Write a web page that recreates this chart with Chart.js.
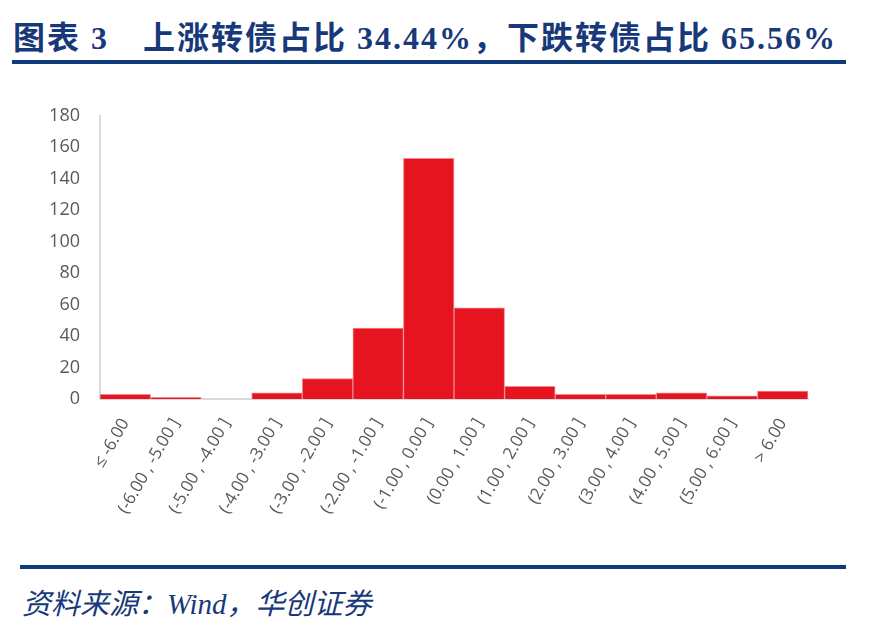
<!DOCTYPE html>
<html lang="zh">
<head>
    <meta charset="UTF-8">
    <title>上涨转债占比</title>
    <script src="https://cdn.jsdelivr.net/npm/chart.js"></script>
    <style>
        body {
            margin: 0;
            width: 874px;
            height: 631px;
            background: #fff;
            position: relative;
            overflow: hidden;
        }
        .title {
            position: absolute;
            left: 13px;
            top: 12px;
            font-family: 'Liberation Serif', 'Noto Sans CJK SC', serif;
            font-weight: bold;
            font-size: 32px;
            color: #17397a;
            white-space: nowrap;
            letter-spacing: 2px;
        }
        .rule {
            position: absolute;
            height: 4px;
            background: #0f3a7c;
        }
        .source {
            position: absolute;
            left: 22px;
            top: 580px;
            font-family: 'Liberation Serif', 'Noto Sans CJK SC', serif;
            font-style: italic;
            font-size: 29px;
            color: #17397a;
            white-space: nowrap;
        }
        .chart-box {
            position: absolute;
            left: 0;
            top: 85px;
            width: 874px;
            height: 455px;
        }
    </style>
</head>
<body>
    <div class="title">图表 3　上涨转债占比 34.44%，下跌转债占比 65.56%</div>
    <div class="rule" style="left:12px; top:60px; width:834px;"></div>

    <div class="chart-box"><canvas id="histChart"></canvas></div>

    <div class="rule" style="left:20px; top:565px; width:826px;"></div>
    <div class="source">资料来源：Wind，华创证券</div>

    <script>
        // 涨跌幅区间 (%)
        const bins = [
            '≤ -6.00', '(-6.00 , -5.00 ]', '(-5.00 , -4.00 ]', '(-4.00 , -3.00 ]',
            '(-3.00 , -2.00 ]', '(-2.00 , -1.00 ]', '(-1.00 , 0.00 ]', '(0.00 , 1.00 ]',
            '(1.00 , 2.00 ]', '(2.00 , 3.00 ]', '(3.00 , 4.00 ]', '(4.00 , 5.00 ]',
            '(5.00 , 6.00 ]', '> 6.00'
        ];
        // 转债数量
        const counts = [3, 1, 0, 4, 13, 45, 153, 58, 8, 3, 3, 4, 2, 5];
        const yTicks = [0, 20, 40, 60, 80, 100, 120, 140, 160, 180];

        new Chart(document.getElementById('histChart'), {
            type: 'bar',
            data: {
                labels: bins,
                datasets: [{
                    data: counts,
                    backgroundColor: '#e5141e',
                    borderColor: '#f08a8f',
                    borderWidth: 1,
                    categoryPercentage: 1,
                    barPercentage: 1
                }]
            },
            options: {
                responsive: true,
                maintainAspectRatio: false,
                animation: false,
                layout: {
                    padding: { top: 2, right: 66, bottom: 0, left: 0 }
                },
                plugins: {
                    legend: { display: false },
                    tooltip: { enabled: false }
                },
                scales: {
                    y: {
                        min: 0,
                        max: 180,
                        afterFit: (scale) => { scale.width = 100; },
                        afterBuildTicks: (scale) => {
                            scale.ticks = yTicks.map(v => ({ value: v }));
                        },
                        grid: { display: false, drawTicks: false },
                        border: { color: '#d9d9d9', width: 2 },
                        ticks: {
                            color: '#595959',
                            padding: 20,
                            font: { family: 'Open Sans', size: 18 }
                        }
                    },
                    x: {
                        afterFit: (scale) => { scale.height = 141; },
                        grid: { display: false, drawTicks: false },
                        border: { color: '#d9d9d9', width: 2 },
                        ticks: {
                            color: '#595959',
                            minRotation: 60,
                            maxRotation: 60,
                            autoSkip: false,
                            padding: 16,
                            font: { family: 'Open Sans', size: 17 }
                        }
                    }
                }
            }
        });
    </script>
</body>
</html>
